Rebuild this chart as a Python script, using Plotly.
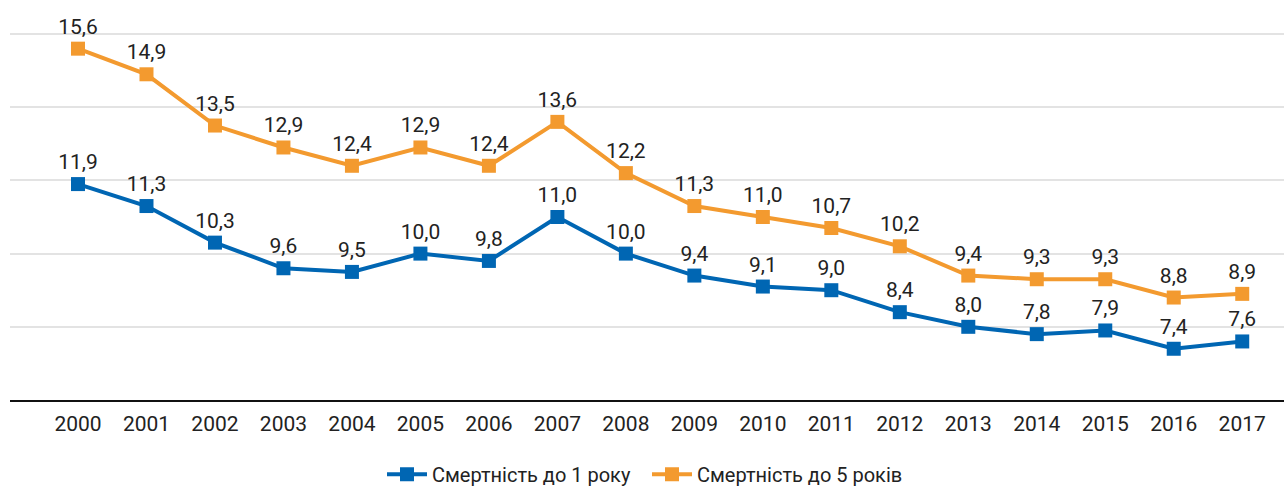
import plotly.graph_objects as go

years = list(range(2000, 2018))
infant = [11.9, 11.3, 10.3, 9.6, 9.5, 10.0, 9.8, 11.0, 10.0, 9.4, 9.1, 9.0, 8.4, 8.0, 7.8, 7.9, 7.4, 7.6]
under5 = [15.6, 14.9, 13.5, 12.9, 12.4, 12.9, 12.4, 13.6, 12.2, 11.3, 11.0, 10.7, 10.2, 9.4, 9.3, 9.3, 8.8, 8.9]
names = ["Смертність до 1 року", "Смертність до 5 років"]
colors = ["#0066B3", "#F39A2F"]

FONT = "Roboto, sans-serif"

def fmt(v):
    return f"{v:.1f}".replace(".", ",")

fig = go.Figure()
for vals, name, col in zip([infant, under5], names, colors):
    fig.add_trace(go.Scatter(
        x=years, y=vals, name=name, mode="lines+markers+text",
        line=dict(color=col, width=4),
        marker=dict(symbol="square", size=14, color=col),
        text=[fmt(v) for v in vals], textposition="top center",
        textfont=dict(family=FONT, size=21, color="#222222"),
        cliponaxis=False,
    ))

fig.update_layout(
    width=1284, height=486,
    margin=dict(l=10, r=0, t=0, b=86, autoexpand=False),
    plot_bgcolor="white", paper_bgcolor="white",
    font=dict(family=FONT, size=20, color="#222222"),
    showlegend=True,
    legend=dict(orientation="h", x=0.5, xanchor="center",
                yref="container", y=0.024, yanchor="middle",
                font=dict(family=FONT, size=20, color="#222222"),
                itemwidth=40, entrywidth=210, entrywidthmode="pixels"),
)
fig.update_xaxes(range=[1999.007, 2017.61], tickvals=years, ticktext=[str(y) for y in years],
                 showgrid=False, showline=True, linecolor="#111111", linewidth=2,
                 ticks="", ticklabelstandoff=4, zeroline=False,
                 tickfont=dict(size=21, color="#222222"))
fig.update_yaxes(range=[6, 16.93], tickvals=[8, 10, 12, 14, 16], showticklabels=False,
                 showgrid=True, gridcolor="#e3e3e3", gridwidth=2, zeroline=False,
                 showline=False)

fig.write_html("out.html", config={"displayModeBar": False},
               post_script="document.body.style.margin='0';")
